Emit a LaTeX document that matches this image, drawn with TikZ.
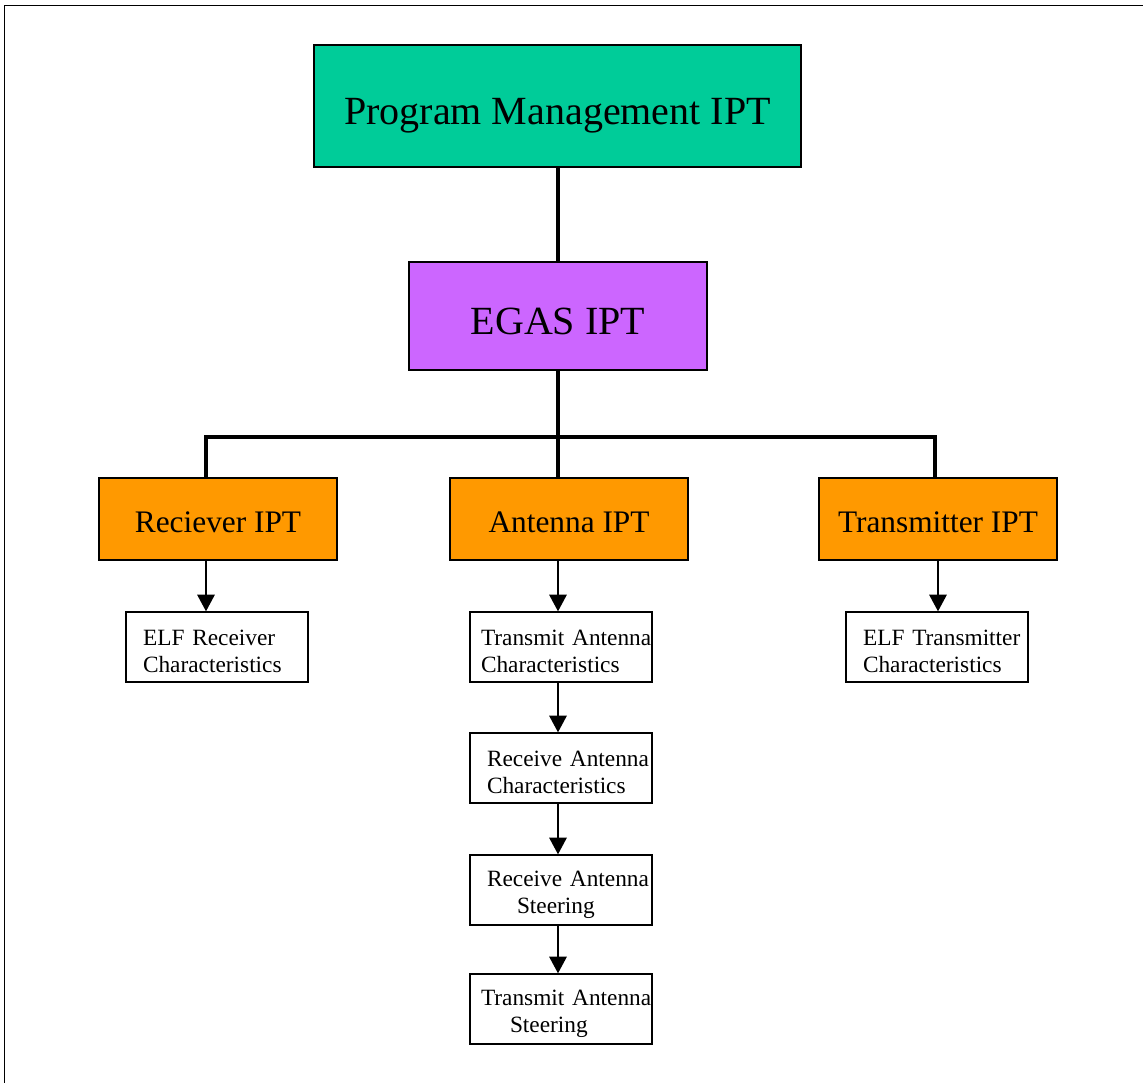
\documentclass[tikz,border=0pt]{standalone}
\usepackage{fontspec}
\setmainfont{Liberation Serif}
\usetikzlibrary{arrows.meta,positioning}
\definecolor{pmgreen}{HTML}{00CC99}
\definecolor{egasviolet}{HTML}{CC66FF}
\definecolor{iptorange}{HTML}{FF9900}
\tikzset{top node/.style={draw,line width=1pt,inner sep=0pt,text height=27pt,text depth=0pt,font=\fontsize{30}{36}\selectfont},
         ipt node/.style={draw,line width=1pt,fill=iptorange,minimum width=178.5pt,minimum height=61.5pt,inner sep=0pt,text height=20.5pt,text depth=0pt,font=\fontsize{23.5}{28}\selectfont},
         task node/.style={draw,line width=1pt,fill=white,minimum height=52.5pt,text width=136.5pt,inner sep=0pt,text height=18.5pt,align=left,font=\fontsize{17.5}{20.25}\selectfont},
         bus line/.style={line width=3pt,line join=miter},
         flow arrow/.style={line width=1.5pt,-{Triangle[length=12.5pt,width=13pt]}}
}

\begin{document}
\begin{tikzpicture}[x=0.75pt,y=-0.75pt]
\useasboundingbox (0,0) rectangle (1143,1083);
\draw[line width=1pt] (1143,5.5) -- (4.5,5.5) -- (4.5,1083);

% management levels
\node[top node,fill=pmgreen,minimum width=365.25pt,minimum height=91.5pt] (pm) at (557.5,106) {Program Management IPT};
\node[top node,fill=egasviolet,minimum width=223.5pt,minimum height=81pt] (egas) at (558,316) {EGAS IPT};

% IPT teams
\node[ipt node] (rcv) at (218,519) {Reciever IPT};
\node[ipt node] (ant) at (569,519) {Antenna IPT};
\node[ipt node] (xmt) at (938,519) {Transmitter IPT};

% tasks
\node[task node] (elfr) at (217,647) {\hspace*{12.75pt}ELF~Receiver\\\hspace*{12.75pt}Characteristics};
\node[task node] (tac) at (561,647) {\hspace*{8.25pt}Transmit~Antenna\\\hspace*{8.25pt}Characteristics};
\node[task node,below=37.25pt of tac] (rac) {\hspace*{12.75pt}Receive~Antenna\\\hspace*{12.75pt}Characteristics};
\node[task node,below=38pt of rac] (ras) {\hspace*{12.75pt}Receive~Antenna\\\hspace*{35.25pt}Steering};
\node[task node,below=35.75pt of ras] (tas) {\hspace*{8.25pt}Transmit~Antenna\\\hspace*{30pt}Steering};
\node[task node] (elft) at (937,647) {\hspace*{12.75pt}ELF~Transmitter\\\hspace*{12.75pt}Characteristics};

\coordinate (busl) at (206,437);
\coordinate (busr) at (935,437);
\draw[bus line] (pm.south) -- (pm.south |- egas.north);
\draw[bus line] (egas.south) -- (egas.south |- ant.north);
\draw[bus line] (busl |- rcv.north) -- (busl) -- (busr) -- (busr |- xmt.north);

\draw[flow arrow] (busl |- rcv.south) -- (busl |- elfr.north);
\draw[flow arrow] (egas.south |- ant.south) -- (egas.south |- tac.north);
\draw[flow arrow] (egas.south |- tac.south) -- (egas.south |- rac.north);
\draw[flow arrow] (egas.south |- rac.south) -- (egas.south |- ras.north);
\draw[flow arrow] (egas.south |- ras.south) -- (egas.south |- tas.north);
\draw[flow arrow] (xmt.south) -- (xmt.south |- elft.north);
\end{tikzpicture}
\end{document}
